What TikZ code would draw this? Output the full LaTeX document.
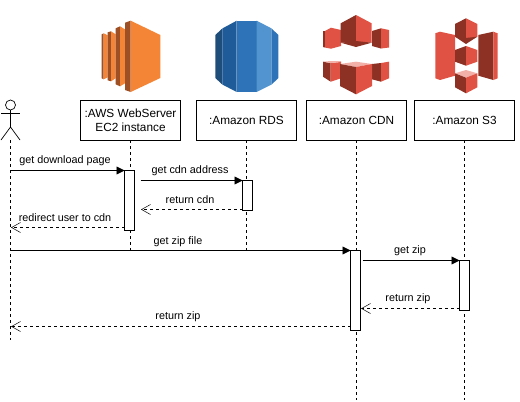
\documentclass[tikz,border=0pt]{standalone}
\usepackage{fontspec}
\usepackage{xcolor}
\setmainfont{Liberation Sans}
\usetikzlibrary{arrows.meta}

\definecolor{ec2main}{HTML}{F58536}
\definecolor{ec2dark}{HTML}{9D5025}
\definecolor{rdsfar}{HTML}{1F4D7A}
\definecolor{rdsdark}{HTML}{205B99}
\definecolor{rdsmid}{HTML}{2E73B8}
\definecolor{rdslight}{HTML}{5294CF}
\definecolor{awsred}{HTML}{E05243}
\definecolor{awsdark}{HTML}{8C3123}
\definecolor{awspink}{HTML}{F2B0A9}

\tikzset{
  partbox/.style={draw,line width=0.9pt,minimum width=100pt,minimum height=40pt,inner sep=0pt,outer sep=0pt,align=center,font=\fontsize{11.8}{14}\selectfont},
  actbar/.style={draw,fill=white,line width=0.9pt,minimum width=10pt,inner sep=0pt,outer sep=0pt},
  lifeline/.style={line width=0.9pt,dash pattern=on 3pt off 3pt},
  msgcall/.style={line width=0.9pt,-{Triangle[length=8pt,width=8pt]}},
  msgback/.style={line width=0.7pt,dash pattern=on 3pt off 3pt,-{Straight Barb[length=9pt,width=10pt,line width=0.5pt]}},
  msgtext/.style={inner sep=0pt,font=\fontsize{10.8}{12}\selectfont}
}

\begin{document}
\begin{tikzpicture}[x=1pt,y=-1pt]
\useasboundingbox (0,0) rectangle (520,402);

\fill[ec2dark] (101.7,34.3) -- (103.7,33.3) -- (103.7,79.3) -- (101.7,78.3) -- cycle;
\fill[ec2main] (103.7,33.3) -- (107.7,35.3) -- (107.7,77.3) -- (103.7,79.3) -- cycle;
\fill[ec2dark] (107.7,32.3) -- (111,31.3) -- (111,81.3) -- (107.7,80.3) -- cycle;
\fill[ec2main] (111,31.3) -- (115.7,34.3) -- (115.7,78.3) -- (111,81.3) -- cycle;
\fill[ec2dark] (115.7,28.3) -- (120,26.3) -- (120,86.3) -- (115.7,84.3) -- cycle;
\fill[ec2main] (120,26.3) -- (125,29.3) -- (125,83.3) -- (120,86.3) -- cycle;
\fill[ec2dark] (125,22.7) -- (130.7,20.7) -- (130.7,92) -- (125,90) -- cycle;
\fill[ec2main] (130.7,20.7) -- (160.3,35) -- (160.3,78) -- (130.7,92) -- cycle;

\fill[rdsfar] (215.3,35) -- (222.3,28.5) -- (222.3,84.5) -- (215.3,78) -- cycle;
\fill[rdsdark] (222.3,28.5) -- (236.7,20.7) -- (236.7,92) -- (222.3,84.5) -- cycle;
\fill[rdsmid] (236.7,20.7) rectangle (256.7,92);
\fill[rdslight] (256.7,20.7) -- (271.7,28.5) -- (271.7,84.5) -- (256.7,92) -- cycle;
\fill[rdsmid] (271.7,28.5) -- (278.3,35) -- (278.3,78) -- (271.7,84.5) -- cycle;

\fill[awsdark] (323,31) -- (325,31) -- (325,47.5) -- (323,47) -- cycle;
\fill[awsred] (325,31) -- (331,27.7) -- (341,30) -- (341,46) -- (331,48.7) -- (325,47.5) -- cycle;
\fill[awsdark] (372,31) -- (381,28.3) -- (381,48.5) -- (372,46) -- cycle;
\fill[awsred] (381,28.3) -- (389,30) -- (389,47.5) -- (381,48.5) -- cycle;
\fill[awsdark] (340.7,23.3) -- (356,15) -- (356,42) -- (340.7,42.7) -- cycle;
\fill[awsred] (356,15) -- (371.7,23.3) -- (371.7,42.7) -- (356,42) -- cycle;
\fill[awsdark] (340.7,42.7) -- (356,41) -- (371.7,42.7) -- (356,47) -- cycle;

\fill[awsdark] (323,61.7) -- (330.7,63) -- (330.7,81.7) -- (323,76.7) -- cycle;
\fill[awsred] (330.7,63) -- (341,62) -- (341,78.3) -- (330.7,81.7) -- cycle;
\fill[awspink] (323,61.7) -- (331,61) -- (341,61) -- (341,62) -- (330.7,63) -- cycle;
\fill[awsdark] (372,64) -- (381,63) -- (381,81.7) -- (372,79.3) -- cycle;
\fill[awsred] (381,63) -- (389,61.7) -- (389,78.3) -- (381,81.7) -- cycle;
\fill[awspink] (340,64) -- (356,61.7) -- (372,64) -- (356,67) -- cycle;
\fill[awsdark] (340,64) -- (356,67) -- (356,94.3) -- (340,86) -- cycle;
\fill[awsred] (356,67) -- (372,64) -- (372,86) -- (356,94.3) -- cycle;

\fill[awsred] (435.3,33.3) -- (440,31.7) -- (455,35) -- (455,75.7) -- (440,80) -- (435.3,78.3) -- cycle;
\fill[awsdark] (478.3,35) -- (493.3,31.7) -- (493.3,80) -- (478.3,75.7) -- cycle;
\fill[awsred] (493.3,31.7) -- (497.7,33.3) -- (497.7,78.3) -- (493.3,80) -- cycle;
\fill[awsdark] (455,24) -- (466,18.3) -- (466,41.7) -- (455,36.7) -- cycle;
\fill[awsred] (466,18.3) -- (477.3,24) -- (477.3,36.7) -- (466,41.7) -- cycle;
\fill[awsdark] (455,36.7) -- (466,38) -- (477.3,36.7) -- (466,44) -- cycle;
\fill[awsdark] (455,50) -- (466,46) -- (466,65.7) -- (455,61.7) -- cycle;
\fill[awsred] (466,46) -- (477.3,50) -- (477.3,61.7) -- (466,65.7) -- cycle;
\fill[awspink] (455,73.3) -- (466,70) -- (477.3,73.3) -- (466,77.7) -- cycle;
\fill[awsdark] (455,73.3) -- (466,77.7) -- (466,93.3) -- (455,87.3) -- cycle;
\fill[awsred] (466,77.7) -- (477.3,73.3) -- (477.3,87.3) -- (466,93.3) -- cycle;

\node[partbox] (web) at (130.5,120.3) {:AWS WebServer\\EC2 instance};
\node[partbox] (rds) at (246.5,120.3) {:Amazon RDS};
\node[partbox] (cdn) at (356.5,120.3) {:Amazon CDN};
\node[partbox] (s3) at (464.5,120.3) {:Amazon S3};

\node[draw,circle,line width=0.7pt,minimum size=10pt,inner sep=0pt,outer sep=0pt] (head) at (10.5,105) {};
\coordinate (hip) at (10.5,127);
\coordinate (armL) at (1,113.5);
\coordinate (armR) at (20,113.5);
\coordinate (footL) at (1,140);
\coordinate (footR) at (20,140);
\coordinate (userfoot) at (10.5,140);
\draw[line width=0.7pt] (head.south) -- (hip);
\draw[line width=0.7pt] (armL) -- (armR);
\draw[line width=0.7pt] (footL) -- (hip) -- (footR);

\coordinate (userend) at (10.5,340);
\coordinate (webend) at (130.5,250);
\coordinate (rdsend) at (246.5,250);
\coordinate (cdnend) at (356.5,400);
\coordinate (s3end) at (464.5,400);
\draw[lifeline] (userfoot) -- (userend);
\draw[lifeline] (web.south) -- (webend);
\draw[lifeline] (rds.south) -- (rdsend);
\draw[lifeline] (cdn.south) -- (cdnend);
\draw[lifeline] (s3.south) -- (s3end);

\node[actbar,minimum height=60pt] (webbar) at (129.5,200.5) {};
\node[actbar,minimum height=30pt] (rdsbar) at (247.5,195.5) {};
\node[actbar,minimum height=80pt] (cdnbar) at (355.5,290.5) {};
\node[actbar,minimum height=50pt] (s3bar) at (464.5,285.5) {};

\coordinate (user1) at (10.5,170.5);
\coordinate (webout) at (140.5,180.5);
\coordinate (webin) at (141,209.5);
\coordinate (user2) at (11,227.5);
\coordinate (user3) at (10.5,250.5);
\coordinate (cdnout) at (362.5,260.5);
\coordinate (cdnin) at (361,308.5);
\coordinate (user4) at (11,326.5);

\draw[msgcall] (user1) -- (webbar.north west);
\draw[msgcall] (webout) -- (rdsbar.north west);
\draw[msgback] (rdsbar.west |- webin) -- (webin);
\draw[msgback] (webbar.west |- user2) -- (user2);
\draw[msgcall] (user3) -- (cdnbar.north west);
\draw[msgcall] (cdnout) -- (s3bar.north west);
\draw[msgback] (s3bar.west |- cdnin) -- (cdnin);
\draw[msgback] (cdnbar.west |- user4) -- (user4);

\node[msgtext] (t1) at (65,161) {get download page};
\node[msgtext] (t2) at (190,171) {get cdn address};
\node[msgtext] (t3) at (190,200) {return cdn};
\node[msgtext] (t4) at (65,218) {redirect user to cdn};
\node[msgtext] (t5) at (178,241.5) {get zip file};
\node[msgtext] (t6) at (410,251) {get zip};
\node[msgtext] (t7) at (408,299) {return zip};
\node[msgtext] (t8) at (178,317) {return zip};

\end{tikzpicture}
\end{document}
